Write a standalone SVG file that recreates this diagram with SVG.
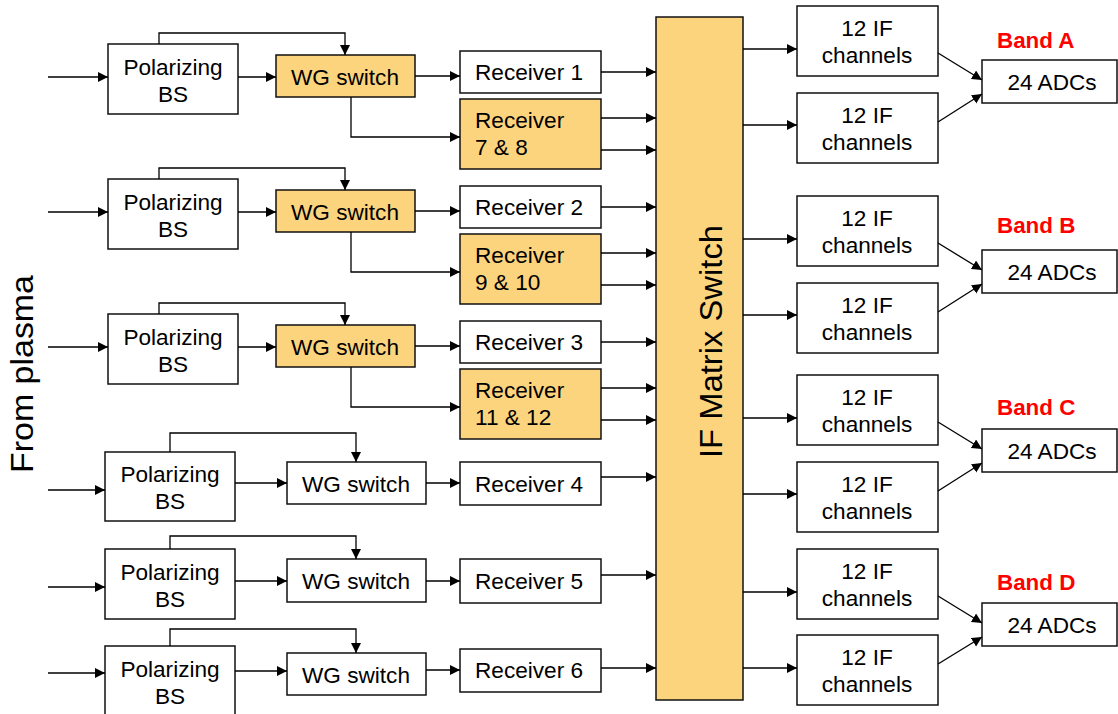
<svg xmlns="http://www.w3.org/2000/svg" width="1118" height="714" viewBox="0 0 1118 714">
<defs>
<marker id="ah" markerUnits="userSpaceOnUse" markerWidth="11" markerHeight="11" refX="10" refY="5" orient="auto">
<path d="M0,0 L10,5 L0,10 z" fill="#000"/>
</marker>
<style>
.box{fill:#fff;stroke:#111;stroke-width:1.5}
.org{fill:#FDD47E;stroke:#111;stroke-width:1.5}
.t{font-family:"Liberation Sans",Arial,sans-serif;font-size:22.6px;fill:#000;text-anchor:middle}
.tl{font-family:"Liberation Sans",Arial,sans-serif;font-size:22.6px;fill:#000}
.band{font-family:"Liberation Sans",Arial,sans-serif;font-size:22.4px;font-weight:bold;fill:#FF0000}
.big{font-family:"Liberation Sans",Arial,sans-serif;font-size:31px;fill:#000;text-anchor:middle}
.ln{fill:none;stroke:#000;stroke-width:1.3}
.ar{fill:none;stroke:#000;stroke-width:1.3;marker-end:url(#ah)}
</style>
</defs>
<rect width="1118" height="714" fill="#fff"/>

<text class="big" transform="translate(33,374) rotate(-90)" textLength="198" lengthAdjust="spacingAndGlyphs">From plasma</text>

<g id="matrix">
<rect class="org" x="656" y="17" width="87" height="683"/>
<text class="big" transform="translate(722,341.5) rotate(-90)" textLength="233" lengthAdjust="spacingAndGlyphs">IF Matrix Switch</text>
</g>

<!-- Row 1 -->
<g id="bs1"><rect class="box" x="108" y="44" width="130" height="70"/><text class="t" x="173" y="75">Polarizing</text><text class="t" x="173" y="102">BS</text></g>
<g id="wg1"><rect class="org" x="276" y="55" width="139" height="42"/><text class="t" x="345" y="85">WG switch</text></g>
<g id="rx1"><rect class="box" x="460" y="51" width="141" height="42"/><text class="t" x="529" y="80">Receiver 1</text></g>
<g id="rx78"><rect class="org" x="460" y="99" width="141" height="70"/><text class="tl" x="475" y="128">Receiver</text><text class="tl" x="475" y="155">7 &amp; 8</text></g>
<!-- Row 2 -->
<g id="bs2"><rect class="box" x="108" y="179" width="130" height="70"/><text class="t" x="173" y="210">Polarizing</text><text class="t" x="173" y="237">BS</text></g>
<g id="wg2"><rect class="org" x="276" y="190" width="139" height="42"/><text class="t" x="345" y="220">WG switch</text></g>
<g id="rx2"><rect class="box" x="460" y="186" width="141" height="42"/><text class="t" x="529" y="215">Receiver 2</text></g>
<g id="rx910"><rect class="org" x="460" y="234" width="141" height="70"/><text class="tl" x="475" y="263">Receiver</text><text class="tl" x="475" y="290">9 &amp; 10</text></g>
<!-- Row 3 -->
<g id="bs3"><rect class="box" x="108" y="314" width="130" height="70"/><text class="t" x="173" y="345">Polarizing</text><text class="t" x="173" y="372">BS</text></g>
<g id="wg3"><rect class="org" x="276" y="325" width="139" height="42"/><text class="t" x="345" y="355">WG switch</text></g>
<g id="rx3"><rect class="box" x="460" y="321" width="141" height="42"/><text class="t" x="529" y="350">Receiver 3</text></g>
<g id="rx1112"><rect class="org" x="460" y="369" width="141" height="70"/><text class="tl" x="475" y="398">Receiver</text><text class="tl" x="475" y="425">11 &amp; 12</text></g>
<!-- Row 4 -->
<g id="bs4"><rect class="box" x="105" y="452" width="130" height="69"/><text class="t" x="170" y="482">Polarizing</text><text class="t" x="170" y="509">BS</text></g>
<g id="wg4"><rect class="box" x="287" y="462" width="139" height="42"/><text class="t" x="356" y="492">WG switch</text></g>
<g id="rx4"><rect class="box" x="460" y="462" width="141" height="43"/><text class="t" x="529" y="492">Receiver 4</text></g>
<!-- Row 5 -->
<g id="bs5"><rect class="box" x="105" y="549" width="130" height="70"/><text class="t" x="170" y="580">Polarizing</text><text class="t" x="170" y="607">BS</text></g>
<g id="wg5"><rect class="box" x="287" y="559" width="139" height="43"/><text class="t" x="356" y="589">WG switch</text></g>
<g id="rx5"><rect class="box" x="460" y="559" width="141" height="44"/><text class="t" x="529" y="589">Receiver 5</text></g>
<!-- Row 6 -->
<g id="bs6"><rect class="box" x="105" y="646" width="130" height="70"/><text class="t" x="170" y="677">Polarizing</text><text class="t" x="170" y="704">BS</text></g>
<g id="wg6"><rect class="box" x="287" y="653" width="139" height="42"/><text class="t" x="356" y="683">WG switch</text></g>
<g id="rx6"><rect class="box" x="460" y="649" width="141" height="43"/><text class="t" x="529" y="678">Receiver 6</text></g>

<!-- IF channels and ADCs -->
<g id="ifa1"><rect class="box" x="797" y="6" width="141" height="70"/><text class="t" x="867" y="36">12 IF</text><text class="t" x="867" y="63">channels</text></g>
<g id="ifa2"><rect class="box" x="797" y="93" width="141" height="70"/><text class="t" x="867" y="123">12 IF</text><text class="t" x="867" y="150">channels</text></g>
<g id="adca"><rect class="box" x="982" y="60" width="135" height="43"/><text class="t" x="1052" y="90">24 ADCs</text><text class="band" x="997" y="48">Band A</text></g>

<g id="ifb1"><rect class="box" x="797" y="196" width="141" height="70"/><text class="t" x="867" y="226">12 IF</text><text class="t" x="867" y="253">channels</text></g>
<g id="ifb2"><rect class="box" x="797" y="283" width="141" height="70"/><text class="t" x="867" y="313">12 IF</text><text class="t" x="867" y="340">channels</text></g>
<g id="adcb"><rect class="box" x="982" y="250" width="135" height="43"/><text class="t" x="1052" y="280">24 ADCs</text><text class="band" x="997" y="233">Band B</text></g>

<g id="ifc1"><rect class="box" x="797" y="375" width="141" height="70"/><text class="t" x="867" y="405">12 IF</text><text class="t" x="867" y="432">channels</text></g>
<g id="ifc2"><rect class="box" x="797" y="462" width="141" height="70"/><text class="t" x="867" y="492">12 IF</text><text class="t" x="867" y="519">channels</text></g>
<g id="adcc"><rect class="box" x="982" y="429" width="135" height="43"/><text class="t" x="1052" y="459">24 ADCs</text><text class="band" x="997" y="415">Band C</text></g>

<g id="ifd1"><rect class="box" x="797" y="549" width="141" height="70"/><text class="t" x="867" y="579">12 IF</text><text class="t" x="867" y="606">channels</text></g>
<g id="ifd2"><rect class="box" x="797" y="635" width="141" height="70"/><text class="t" x="867" y="665">12 IF</text><text class="t" x="867" y="692">channels</text></g>
<g id="adcd"><rect class="box" x="982" y="603" width="135" height="43"/><text class="t" x="1052" y="633">24 ADCs</text><text class="band" x="997" y="590">Band D</text></g>

<g id="connectors">
<!-- row 1 -->
<path class="ar" d="M48,77 H108"/>
<path class="ar" d="M238,77 H276"/>
<path class="ar" d="M159,44 V33 H345 V55"/>
<path class="ar" d="M415,76 H460"/>
<path class="ar" d="M351,97 V137 H460"/>
<path class="ar" d="M601,72 H656"/>
<path class="ar" d="M601,118 H656"/>
<path class="ar" d="M601,150 H656"/>
<!-- row 2 -->
<path class="ar" d="M48,212 H108"/>
<path class="ar" d="M238,212 H276"/>
<path class="ar" d="M159,179 V168 H345 V190"/>
<path class="ar" d="M415,211 H460"/>
<path class="ar" d="M351,232 V272 H460"/>
<path class="ar" d="M601,207 H656"/>
<path class="ar" d="M601,253 H656"/>
<path class="ar" d="M601,285 H656"/>
<!-- row 3 -->
<path class="ar" d="M48,347 H108"/>
<path class="ar" d="M238,347 H276"/>
<path class="ar" d="M159,314 V303 H345 V325"/>
<path class="ar" d="M415,346 H460"/>
<path class="ar" d="M351,367 V407 H460"/>
<path class="ar" d="M601,342 H656"/>
<path class="ar" d="M601,388 H656"/>
<path class="ar" d="M601,420 H656"/>
<!-- row 4 -->
<path class="ar" d="M48,490 H105"/>
<path class="ar" d="M235,483 H287"/>
<path class="ar" d="M170,452 V433 H356 V462"/>
<path class="ar" d="M426,483 H460"/>
<path class="ar" d="M601,477 H656"/>
<!-- row 5 -->
<path class="ar" d="M48,587 H105"/>
<path class="ar" d="M235,581 H287"/>
<path class="ar" d="M170,549 V536 H356 V559"/>
<path class="ar" d="M426,581 H460"/>
<path class="ar" d="M601,575 H656"/>
<!-- row 6 -->
<path class="ar" d="M48,673 H105"/>
<path class="ar" d="M235,671 H287"/>
<path class="ar" d="M170,646 V629 H356 V653"/>
<path class="ar" d="M426,670 H460"/>
<path class="ar" d="M601,668 H656"/>
<!-- matrix to IF -->
<path class="ar" d="M743,49 H797"/>
<path class="ar" d="M743,125 H797"/>
<path class="ar" d="M743,239 H797"/>
<path class="ar" d="M743,315 H797"/>
<path class="ar" d="M743,418 H797"/>
<path class="ar" d="M743,494 H797"/>
<path class="ar" d="M743,592 H797"/>
<path class="ar" d="M743,668 H797"/>
<!-- IF to ADC -->
<path class="ar" d="M938,53 L982,80"/>
<path class="ar" d="M938,122 L982,94"/>
<path class="ar" d="M938,243 L982,270"/>
<path class="ar" d="M938,312 L982,284"/>
<path class="ar" d="M938,422 L982,449"/>
<path class="ar" d="M938,491 L982,463"/>
<path class="ar" d="M938,596 L982,623"/>
<path class="ar" d="M938,664 L982,637"/>
</g>
</svg>
